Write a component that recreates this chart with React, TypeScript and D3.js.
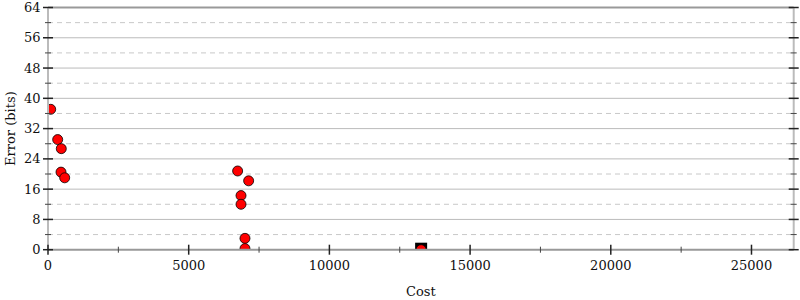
import React from "react";
import * as d3 from "d3";

const costs = [96, 344, 472, 462, 593, 6739, 7130, 6859, 6859, 7000, 7000, 13260];
const errors = [37.1, 29.1, 26.7, 20.5, 19.0, 20.8, 18.2, 14.3, 12.0, 3.0, 0.3, 0];
const bestCost = [13260];
const bestError = [0];
const xMajorTicks = [0, 5000, 10000, 15000, 20000, 25000];
const xMinorTicks = [2500, 7500, 12500, 17500, 22500];
const yMajorTicks = [0, 8, 16, 24, 32, 40, 48, 56, 64];
const yMinorTicks = [4, 12, 20, 28, 36, 44, 52, 60];

const W = 800, H = 300;
const L = 48, R = 793.7, T = 7.5, B = 249.7;
const FONT = "DejaVu Serif, Liberation Serif, serif";

export default function App() {
  const x = d3.scaleLinear().domain([0, 26500]).range([L, R]);
  const y = d3.scaleLinear().domain([0, 64]).range([B, T]);
  return (
    <svg width={W} height={H} style={{ position: "absolute", left: 0, top: 0, background: "#fff" }}>
      <defs>
        <clipPath id="plot">
          <rect x={L} y={T} width={R - L} height={B - T} />
        </clipPath>
      </defs>
      <rect x={0} y={0} width={W} height={H} fill="#fff" />
      {yMinorTicks.map((t) => (
        <line key={"gm" + t} x1={L} x2={R} y1={y(t)} y2={y(t)} stroke="#c8c8c8" strokeDasharray="5,4" strokeWidth={1} />
      ))}
      {yMajorTicks.filter((t) => t > 0 && t < 64).map((t) => (
        <line key={"gM" + t} x1={L} x2={R} y1={y(t)} y2={y(t)} stroke="#bbb" strokeWidth={1} />
      ))}
      <line x1={L} x2={R} y1={y(64)} y2={y(64)} stroke="#999" strokeWidth={2} />
      <g clipPath="url(#plot)">
        {bestCost.map((c, i) => (
          <rect key={"b" + i} x={x(c) - 6} y={y(bestError[i]) - 7} width={12} height={14} fill="#000" />
        ))}
        {costs.map((c, i) => (
          <circle key={"p" + i} cx={x(c)} cy={y(errors[i])} r={5} fill="#ff0000" stroke="#000" strokeWidth={0.8} />
        ))}
      </g>
      <line x1={L} x2={L} y1={T} y2={B} stroke="#bbb" strokeWidth={2} />
      <line x1={R} x2={R} y1={T} y2={B} stroke="#bbb" strokeWidth={2} />
      <line x1={L} x2={R} y1={B} y2={B} stroke="#999" strokeWidth={2} />
      {yMajorTicks.map((t) => (
        <g key={"yt" + t}>
          <line x1={L - 5} x2={L + 5} y1={y(t)} y2={y(t)} stroke="#222" strokeWidth={1.5} />
          <line x1={R - 5} x2={R + 5} y1={y(t)} y2={y(t)} stroke="#222" strokeWidth={1.5} />
          <text x={40.5} y={y(t)} dy="0.35em" textAnchor="end" fontFamily={FONT} fontSize={13} fill="#111">{t}</text>
        </g>
      ))}
      {yMinorTicks.map((t) => (
        <g key={"ym" + t}>
          <line x1={L - 3} x2={L + 3} y1={y(t)} y2={y(t)} stroke="#444" strokeWidth={1} />
          <line x1={R - 3} x2={R + 3} y1={y(t)} y2={y(t)} stroke="#444" strokeWidth={1} />
        </g>
      ))}
      {xMajorTicks.map((t) => (
        <g key={"xt" + t}>
          <line x1={x(t)} x2={x(t)} y1={B - 5} y2={B + 5} stroke="#222" strokeWidth={1.5} />
          <text x={x(t)} y={270} textAnchor="middle" fontFamily={FONT} fontSize={13} fill="#111">{t}</text>
        </g>
      ))}
      {xMinorTicks.map((t) => (
        <line key={"xm" + t} x1={x(t)} x2={x(t)} y1={B - 3} y2={B + 3} stroke="#444" strokeWidth={1} />
      ))}
      <text x={(L + R) / 2} y={296} textAnchor="middle" fontFamily={FONT} fontSize={13} fill="#111">Cost</text>
      <text transform={`translate(15, ${(T + B) / 2}) rotate(-90)`} textAnchor="middle" fontFamily={FONT} fontSize={13} fill="#111">Error (bits)</text>
    </svg>
  );
}
